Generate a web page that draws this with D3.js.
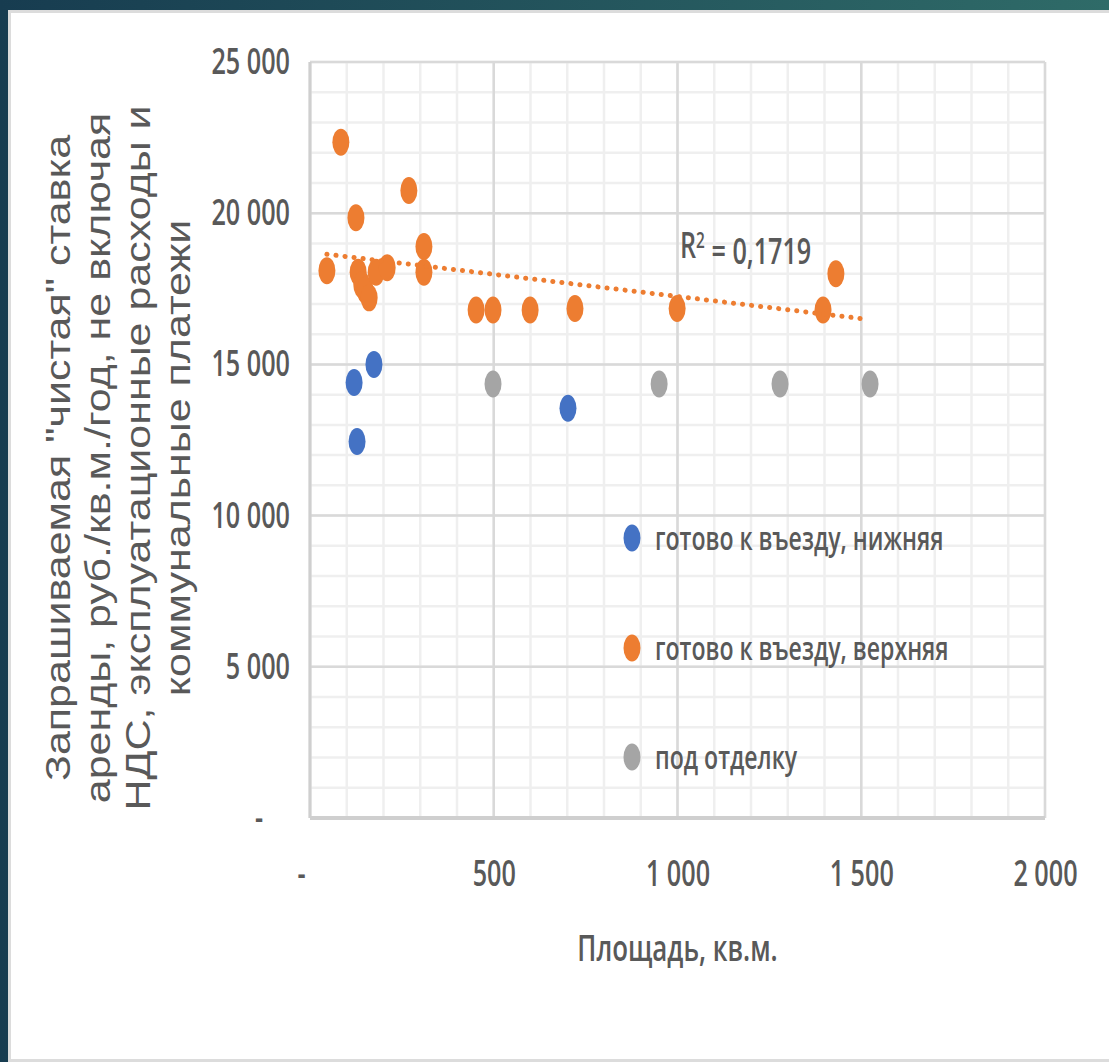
<!DOCTYPE html>
<html>
<head>
<meta charset="utf-8">
<script src="https://cdn.jsdelivr.net/npm/d3@7"></script>
<style>
  body { margin: 0; background: #ffffff; }
  svg { display: block; }
</style>
</head>
<body>
<div id="chart"></div>
<script>
// series
const seriesNames = ["готово к въезду, нижняя", "готово к въезду, верхняя", "под отделку"]
const seriesColors = ["#4472c4", "#ed7d31", "#a5a5a5"]

const lowerArea = [120, 128, 174, 702]
const lowerRate = [14400, 12450, 15000, 13550]

const upperArea = [46, 84, 125, 131, 141, 150, 161, 180, 210, 269, 310, 310, 452, 498, 599, 721, 999, 1396, 1431]
const upperRate = [18100, 22350, 19850, 18050, 17630, 17450, 17200, 18050, 18200, 20750, 18900, 18050, 16800, 16800, 16800, 16850, 16850, 16800, 18000]

const finishArea = [498, 950, 1279, 1524]
const finishRate = [14350, 14350, 14350, 14350]

// axes
const xTicks = [0, 500, 1000, 1500, 2000]
const yTicks = [0, 5000, 10000, 15000, 20000, 25000]
const xMinorStep = 100
const yMinorStep = 1000

const r2Text = "0,1719"
const trendForward = 75

const xTitle = "Площадь, кв.м."
const yTitleLines = [
    'Запрашиваемая "чистая" ставка',
    'аренды, руб./кв.м./год, не включая',
    'НДС, эксплуатационные расходы и',
    'коммунальные платежи'
]

const width = 1109
const height = 1062
const plot = { left: 310, right: 1045, top: 62, bottom: 818 }
const sx = 0.7           // the picture is squeezed sideways
const textColor = "#595959"
const font = "'Open Sans', sans-serif"

const svg = d3.select("#chart").append("svg")
    .attr("width", width).attr("height", height)

// backdrop
const defs = svg.append("defs")
const bg = defs.append("linearGradient").attr("id", "bg")
    .attr("x1", "0").attr("y1", "0").attr("x2", "1").attr("y2", "0")
bg.append("stop").attr("offset", "0").attr("stop-color", "#173c50")
bg.append("stop").attr("offset", "1").attr("stop-color", "#2f6b68")
svg.append("rect").attr("width", width).attr("height", height).attr("fill", "url(#bg)")
svg.append("rect").attr("x", 9.5).attr("y", 11.5).attr("width", width).attr("height", height - 13)
    .attr("fill", "#ffffff").attr("stroke", "#dcdcdc").attr("stroke-width", 3)

const x = d3.scaleLinear().domain([xTicks[0], xTicks[xTicks.length - 1]]).range([plot.left, plot.right])
const y = d3.scaleLinear().domain([yTicks[0], yTicks[yTicks.length - 1]]).range([plot.bottom, plot.top])

// grid
const grid = svg.append("g")
const xMinor = d3.range(x.domain()[0], x.domain()[1] + 1, xMinorStep)
const yMinor = d3.range(y.domain()[0], y.domain()[1] + 1, yMinorStep)
grid.selectAll(".vminor").data(xMinor).enter().append("line")
    .attr("x1", d => x(d)).attr("x2", d => x(d)).attr("y1", plot.top).attr("y2", plot.bottom)
    .attr("stroke", "#efefef").attr("stroke-width", 2.5)
grid.selectAll(".hminor").data(yMinor).enter().append("line")
    .attr("y1", d => y(d)).attr("y2", d => y(d)).attr("x1", plot.left).attr("x2", plot.right)
    .attr("stroke", "#efefef").attr("stroke-width", 2.5)
grid.selectAll(".vmajor").data(xTicks).enter().append("line")
    .attr("x1", d => x(d)).attr("x2", d => x(d)).attr("y1", plot.top).attr("y2", plot.bottom)
    .attr("stroke", "#d9d9d9").attr("stroke-width", 2.5)
grid.selectAll(".hmajor").data(yTicks).enter().append("line")
    .attr("y1", d => y(d)).attr("y2", d => y(d)).attr("x1", plot.left).attr("x2", plot.right)
    .attr("stroke", "#d9d9d9").attr("stroke-width", 2.5)
grid.append("line").attr("x1", plot.left).attr("x2", plot.right)
    .attr("y1", plot.bottom).attr("y2", plot.bottom)
    .attr("stroke", "#cfcfcf").attr("stroke-width", 4)
grid.append("line").attr("x1", plot.left).attr("x2", plot.left)
    .attr("y1", plot.top).attr("y2", plot.bottom)
    .attr("stroke", "#cfcfcf").attr("stroke-width", 3)

// axes
const fmt = d => d === 0 ? "-" : d3.format(",")(d).replace(/,/g, " ")

svg.append("g")
    .attr("transform", "translate(" + plot.left + ",0)")
    .call(d3.axisLeft(y).tickValues(yTicks).tickSize(0).tickFormat(fmt))
    .call(g => g.select(".domain").remove())
    .selectAll("text")
    .attr("x", d => (d === 0 ? -47 : -20) / sx)
    .attr("transform", "scale(" + sx + ",1)")
    .style("font-family", font).style("font-size", "36px").style("font-weight", 600)
    .style("fill", textColor)

svg.append("g")
    .attr("transform", "translate(0," + plot.bottom + ")")
    .call(d3.axisBottom(x).tickValues(xTicks).tickSize(0).tickPadding(42).tickFormat(fmt))
    .call(g => g.select(".domain").remove())
    .selectAll("text")
    .attr("x", d => (d === 0 ? -9 : 0) / sx)
    .attr("transform", "scale(" + sx + ",1)")
    .style("font-family", font).style("font-size", "36px").style("font-weight", 600)
    .style("fill", textColor)

// axis titles
svg.append("text")
    .attr("transform", "translate(" + x(1000) + ",948) scale(" + sx + ",1)")
    .attr("text-anchor", "middle").attr("dy", "0.35em")
    .style("font-family", font).style("font-size", "37px").style("font-weight", 600)
    .style("fill", textColor)
    .text(xTitle)

const yTitle = svg.append("g")
    .attr("transform", "translate(58,458) scale(0.8,1) rotate(-90)")
yTitle.selectAll("text").data(yTitleLines).enter().append("text")
    .attr("x", 0).attr("y", (d, i) => i * 50)
    .attr("text-anchor", "middle").attr("dominant-baseline", "central")
    .style("font-family", "'Liberation Sans', Arial, sans-serif").style("font-size", "43px")
    .style("fill", textColor)
    .text(d => d)

// points
const series = [
    { area: lowerArea, rate: lowerRate },
    { area: upperArea, rate: upperRate },
    { area: finishArea, rate: finishRate }
]
series.forEach((s, k) => {
    svg.append("g").selectAll("ellipse")
        .data(s.area.map((a, i) => [a, s.rate[i]]))
        .enter().append("ellipse")
        .attr("cx", d => x(d[0])).attr("cy", d => y(d[1]))
        .attr("rx", 8.5).attr("ry", 13.5)
        .attr("fill", seriesColors[k])
})

// linear trend for the upper series
const mx = d3.mean(upperArea), my = d3.mean(upperRate)
const sxy = d3.sum(upperArea, (a, i) => (a - mx) * (upperRate[i] - my))
const sxx = d3.sum(upperArea, a => (a - mx) * (a - mx))
const slope = sxy / sxx
const icpt = my - slope * mx
const tx0 = d3.min(upperArea), tx1 = d3.max(upperArea) + trendForward
svg.append("line")
    .attr("x1", x(tx0)).attr("y1", y(icpt + slope * tx0))
    .attr("x2", x(tx1)).attr("y2", y(icpt + slope * tx1))
    .attr("stroke", seriesColors[1]).attr("stroke-width", 5)
    .attr("stroke-linecap", "round").attr("stroke-dasharray", "0.1 9")

const r2 = svg.append("text")
    .attr("transform", "translate(680,245) scale(" + sx + ",1)")
    .attr("dy", "0.35em")
    .style("font-family", font).style("font-size", "36px").style("font-weight", 600)
    .style("fill", textColor)
r2.append("tspan").text("R")
r2.append("tspan").attr("dy", "-0.45em").style("font-size", "22px").text("2")
r2.append("tspan").attr("dy", "0.45em").text(" = " + r2Text)

// legend
const legendY = [538, 648, 757]
const legend = svg.append("g").selectAll("g").data(seriesNames).enter().append("g")
    .attr("transform", (d, i) => "translate(632," + legendY[i] + ")")
legend.append("ellipse").attr("rx", 8.5).attr("ry", 13.5).attr("fill", (d, i) => seriesColors[i])
legend.append("text")
    .attr("transform", "translate(23,0) scale(" + sx + ",1)")
    .attr("dy", "0.35em")
    .style("font-family", font).style("font-size", "33px").style("font-weight", 600)
    .style("fill", textColor)
    .text(d => d)
</script>
</body>
</html>
